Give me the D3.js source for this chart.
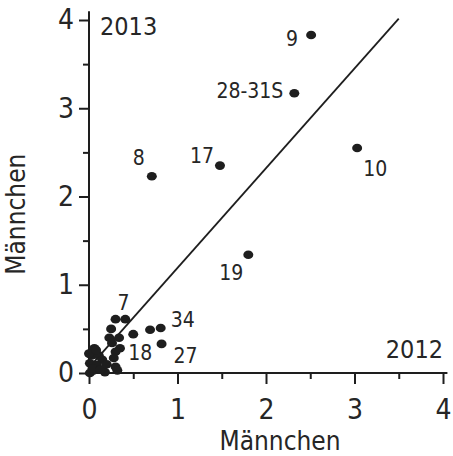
<!DOCTYPE html>
<html>
<head>
<meta charset="utf-8">
<script src="https://cdn.jsdelivr.net/npm/d3@7"></script>
<style>
  html, body { margin: 0; padding: 0; background: #fff; }
  svg { display: block; }
  text { font-family: "DejaVu Sans Condensed", "DejaVu Sans", sans-serif; fill: #262626; }
</style>
</head>
<body>
<svg id="chart" width="453" height="456"></svg>
<script>
// Males per sample: 2012 (x) vs 2013 (y)
const x2012 = [2.51, 2.32, 1.48, 3.03, 0.71, 1.80, 0.30, 0.41, 0.81, 0.50, 0.82, 0.69, 0.25,
  0.23, 0.34, 0.26, 0.35, 0.30, 0.06, 0.03, 0.11, 0.15, 0.01, 0.09, 0.28, 0.30, 0.01, 0.18, 0.32, 0.05,
  0.00, 0.08, 0.04, 0.13, 0.20];
const y2013 = [3.83, 3.17, 2.35, 2.55, 2.23, 1.34, 0.61, 0.61, 0.51, 0.44, 0.33, 0.49, 0.50,
  0.40, 0.40, 0.34, 0.28, 0.24, 0.28, 0.20, 0.20, 0.15, 0.11, 0.09, 0.17, 0.07, 0.00, 0.01, 0.03, 0.03,
  0.22, 0.26, 0.05, 0.04, 0.10];
// Point ids and which point they name
const pointLabels = ["9", "28-31S", "17", "10", "8", "19", "7", "34", "18", "27"];
const labelPoint = [0, 1, 2, 3, 4, 5, 6, 8, 9, 10];
// Regression line y = a + b x
const fitA = 0.06, fitB = 1.13, fitFrom = 0.05, fitTo = 3.5;
const xTicks = [0, 1, 2, 3, 4];
const yTicks = [0, 1, 2, 3, 4];
const axisTitle = "Männchen";
const yearX = "2012", yearY = "2013";

// label placement relative to its point: [dx, dy, anchor]
const labelLayout = [
  [-13, 11, "end"], [-11, 5, "end"], [-6, -3, "end"], [6, 28, "start"], [-7, -11, "end"],
  [-5, 25, "end"], [2, -9, "start"], [10, -1, "start"], [-5, 26, "start"], [12, 19, "start"]
];

const svg = d3.select("#chart");
const x = d3.scaleLinear().domain([0, 4]).range([89, 443]);
const y = d3.scaleLinear().domain([0, 4]).range([373, 20]);
const ink = "#1e1e1e";

// axes: major ticks labelled, half-unit minor ticks
const xMinor = d3.range(0.5, 4, 1);
const yMinor = d3.range(0.5, 4, 1);

const gx = svg.append("g").attr("transform", `translate(0,${y(0)})`);
gx.append("line").attr("x1", x(0)).attr("x2", x(4.05)).attr("stroke", ink).attr("stroke-width", 2);
gx.append("g").call(d3.axisBottom(x).tickValues(xTicks).tickSize(11).tickPadding(15).tickFormat(d3.format("d")))
  .call(g => g.select(".domain").remove())
  .call(g => g.selectAll("line").attr("stroke", ink).attr("stroke-width", 2))
  .call(g => g.selectAll("text").attr("font-size", 28).attr("font-family", null).attr("fill", null));
gx.append("g").call(d3.axisBottom(x).tickValues(xMinor).tickSize(6).tickFormat(""))
  .call(g => g.select(".domain").remove())
  .call(g => g.selectAll("line").attr("stroke", ink).attr("stroke-width", 2));

const gy = svg.append("g").attr("transform", `translate(${x(0)},0)`);
gy.append("line").attr("y1", y(0)).attr("y2", y(4.1)).attr("stroke", ink).attr("stroke-width", 2);
gy.append("g").call(d3.axisLeft(y).tickValues(yTicks).tickSize(10).tickPadding(5).tickFormat(d3.format("d")))
  .call(g => g.select(".domain").remove())
  .call(g => g.selectAll("line").attr("stroke", ink).attr("stroke-width", 2))
  .call(g => g.selectAll("text").attr("font-size", 28).attr("font-family", null).attr("fill", null));
gy.append("g").call(d3.axisLeft(y).tickValues(yMinor).tickSize(6).tickFormat(""))
  .call(g => g.select(".domain").remove())
  .call(g => g.selectAll("line").attr("stroke", ink).attr("stroke-width", 2));

// axis titles
svg.append("text").attr("x", (x(0) + x(4)) / 2 + 14).attr("y", 450)
  .attr("text-anchor", "middle").attr("font-size", 26).text(axisTitle);
svg.append("text").attr("transform", `translate(25,${y(1.8)}) rotate(-90)`)
  .attr("text-anchor", "middle").attr("font-size", 26).text(axisTitle);

// year tags
svg.append("text").attr("x", x(0) + 11).attr("y", 35).attr("font-size", 25).text(yearY);
svg.append("text").attr("x", x(4)).attr("y", 358).attr("text-anchor", "end").attr("font-size", 25).text(yearX);

// regression line
svg.append("line")
  .attr("x1", x(fitFrom)).attr("y1", y(fitA + fitB * fitFrom))
  .attr("x2", x(fitTo)).attr("y2", y(fitA + fitB * fitTo))
  .attr("stroke", ink).attr("stroke-width", 1.8);

// points
svg.append("g").selectAll("ellipse").data(d3.range(x2012.length)).join("ellipse")
  .attr("cx", i => x(x2012[i])).attr("cy", i => y(y2013[i]))
  .attr("rx", 5).attr("ry", 4.3).attr("fill", ink);

// point ids
svg.append("g").selectAll("text").data(pointLabels).join("text")
  .attr("x", (d, i) => x(x2012[labelPoint[i]]) + labelLayout[i][0])
  .attr("y", (d, i) => y(y2013[labelPoint[i]]) + labelLayout[i][1])
  .attr("text-anchor", (d, i) => labelLayout[i][2])
  .attr("font-size", 21).text(d => d);
</script>
</body>
</html>
